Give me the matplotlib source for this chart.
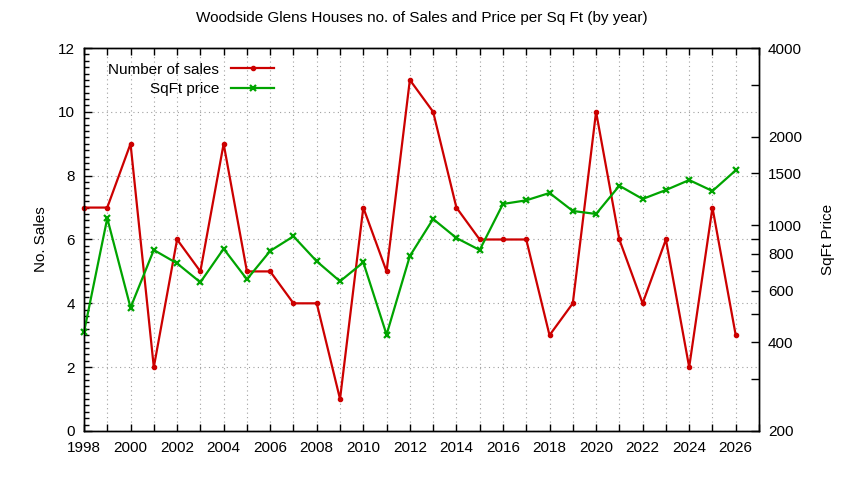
import numpy as np
import matplotlib.pyplot as plt
from matplotlib.ticker import FixedLocator, FuncFormatter, NullFormatter, MultipleLocator

plt.rcParams['font.family'] = ['Liberation Sans', 'DejaVu Sans']

# Data
years = list(range(1998, 2027))
n_sales = [7, 7, 9, 2, 6, 5, 9, 5, 5, 4, 4, 1, 7, 5, 11, 10, 7, 6, 6, 6,
           3, 4, 10, 6, 4, 6, 2, 7, 3]
sqft_price = [433, 1056, 525, 824, 742, 640, 832, 655, 818, 917, 754, 645,
              748, 425, 786, 1050, 905, 824, 1181, 1215, 1287, 1118, 1092,
              1362, 1228, 1317, 1424, 1307, 1537]

right_ticks = [200, 300, 400, 500, 600, 700, 800, 900, 1000, 1500, 2000, 3000, 4000]
right_labels = [200, 400, 600, 800, 1000, 1500, 2000, 4000]

red = '#cc0000'
green = '#00a400'
grid_kw = dict(color='#a0a0a0', linestyle=(0, (1, 3)), linewidth=0.8)

fig = plt.figure(figsize=(8.44, 4.8), dpi=100)
ax = fig.add_axes([0.0995, 0.1021, 0.7998, 0.7979])
ax2 = ax.twinx()

l1, = ax.plot(years, n_sales, color=red, lw=1.6, marker='o', ms=3,
              clip_on=False, label='Number of sales')
l2, = ax2.plot(years, sqft_price, color=green, lw=1.6, marker='x', ms=4,
               mew=1.6, clip_on=False, label='SqFt price')

ax.set_xlim(1998, 2027)
ax.set_ylim(0, 12)
ax2.set_yscale('log')
ax2.set_ylim(200, 4000)

# x ticks every year, labels on even years
ax.xaxis.set_major_locator(MultipleLocator(1))
ax.xaxis.set_major_formatter(FuncFormatter(
    lambda v, p: f'{int(round(v))}' if int(round(v)) % 2 == 0 and v < 2026.5 else ''))
ax.yaxis.set_major_locator(MultipleLocator(2))
ax.yaxis.set_minor_locator(MultipleLocator(0.2))

ax2.yaxis.set_major_locator(FixedLocator(right_ticks))
ax2.yaxis.set_minor_locator(FixedLocator([]))
ax2.yaxis.set_major_formatter(FuncFormatter(
    lambda v, p: f'{int(round(v))}' if int(round(v)) in right_labels else ''))
ax2.yaxis.set_minor_formatter(NullFormatter())

ax.tick_params(axis='x', which='major', direction='in', length=5, width=1,
               top=True, labelsize=11, pad=7)
ax.tick_params(axis='y', which='major', direction='in', length=6, width=1,
               labelsize=11, pad=6.5, right=False)
ax.tick_params(axis='y', which='minor', direction='in', length=3.5, width=1, right=False)
ax2.tick_params(axis='y', which='major', direction='in', length=6, width=1,
                labelsize=11, pad=6.5)

ax.grid(True, axis='both', which='major', **grid_kw)
ax.set_axisbelow(True)

for a in (ax, ax2):
    for s in a.spines.values():
        s.set_linewidth(1)
        s.set_color('black')

ax.set_ylabel('No. Sales', fontsize=11, labelpad=7)
ax2.set_ylabel('SqFt Price', fontsize=11, labelpad=14)

fig.text(0.5, 0.962, 'Woodside Glens Houses no. of Sales and Price per Sq Ft (by year)',
         ha='center', va='center', fontsize=11)

ax2.legend(handles=[l1, l2], loc='upper left', bbox_to_anchor=(0.02, 0.99),
           frameon=False, markerfirst=False, fontsize=11, handlelength=2.8,
           labelspacing=0.35, handletextpad=0.8, borderaxespad=0.3)

fig.savefig('out.png', dpi=100)
